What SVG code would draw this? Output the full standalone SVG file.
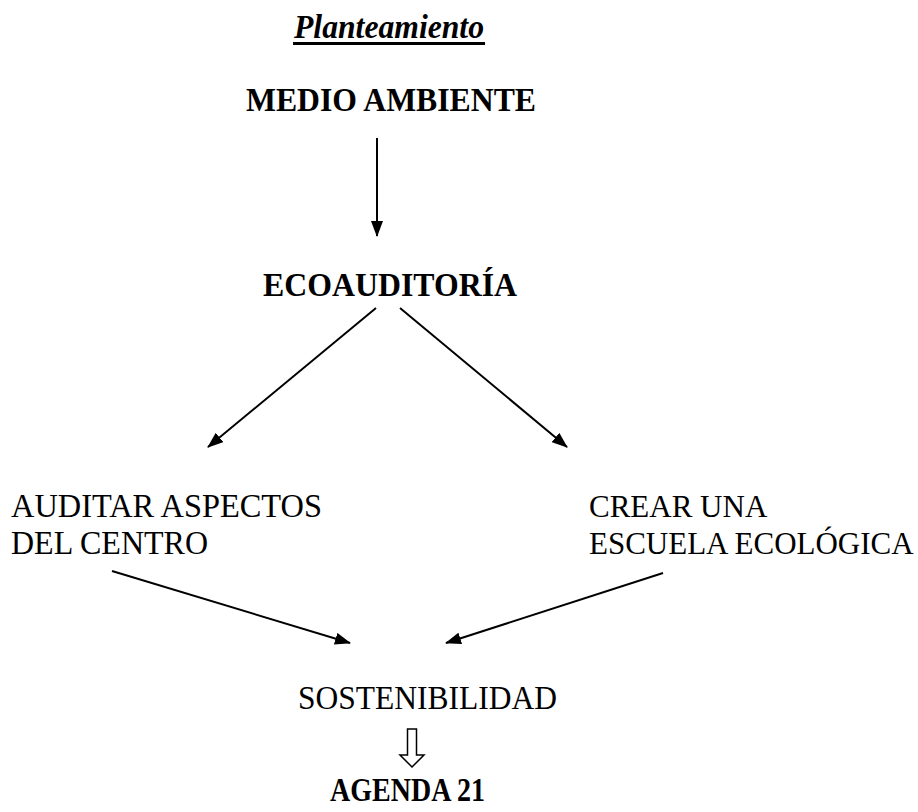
<svg xmlns="http://www.w3.org/2000/svg" width="918" height="812" viewBox="0 0 918 812">
<style>
  text { font-family: "Liberation Serif", "Times New Roman", serif; font-size: 34px; fill: #000; }
  .b { font-weight: bold; }
  .bi { font-weight: bold; font-style: italic; }
  .r31 { font-size: 31px; }
  .ln { stroke: #000; stroke-width: 2; fill: none; }
</style>
<defs>
  <marker id="ah" viewBox="0 0 16 12" refX="15" refY="6" markerWidth="16" markerHeight="12" markerUnits="userSpaceOnUse" orient="auto">
    <path d="M0,0 L16,6 L0,12 Z" fill="#000"/>
  </marker>
</defs>
<rect width="918" height="812" fill="#fff"/>
<g id="title">
  <text class="bi" x="294" y="38" textLength="190" lengthAdjust="spacingAndGlyphs">Planteamiento</text>
  <line x1="293" y1="43.5" x2="485" y2="43.5" stroke="#000" stroke-width="3"/>
</g>
<g id="medio">
  <text class="b" x="246" y="111" textLength="290" lengthAdjust="spacingAndGlyphs">MEDIO AMBIENTE</text>
</g>
<g id="eco">
  <text class="b" x="263" y="296" textLength="254" lengthAdjust="spacingAndGlyphs">ECOAUDITORÍA</text>
</g>
<g id="auditar">
  <text x="11" y="517" textLength="311" lengthAdjust="spacingAndGlyphs">AUDITAR ASPECTOS</text>
  <text x="11" y="554" textLength="197" lengthAdjust="spacingAndGlyphs">DEL CENTRO</text>
</g>
<g id="crear">
  <text class="r31" x="589" y="517">CREAR UNA</text>
  <text class="r31" x="589" y="554">ESCUELA ECOLÓGICA</text>
</g>
<g id="sost">
  <text x="298" y="709" textLength="259" lengthAdjust="spacingAndGlyphs">SOSTENIBILIDAD</text>
</g>
<g id="agenda">
  <text class="b" x="330" y="801" font-size="33" textLength="155" lengthAdjust="spacingAndGlyphs">AGENDA 21</text>
</g>
<g id="connectors">
  <line class="ln" x1="377" y1="138" x2="377" y2="236" marker-end="url(#ah)"/>
  <line class="ln" x1="376" y1="308" x2="208" y2="447" marker-end="url(#ah)"/>
  <line class="ln" x1="400" y1="308" x2="567" y2="447" marker-end="url(#ah)"/>
  <line class="ln" x1="112" y1="571" x2="350" y2="643" marker-end="url(#ah)"/>
  <line class="ln" x1="663" y1="573" x2="446" y2="643" marker-end="url(#ah)"/>
  <path d="M407.5,729 L416.5,729 L416.5,755 L424,755 L412,767 L400,755 L407.5,755 Z" fill="#fff" stroke="#000" stroke-width="1.5"/>
</g>
</svg>
